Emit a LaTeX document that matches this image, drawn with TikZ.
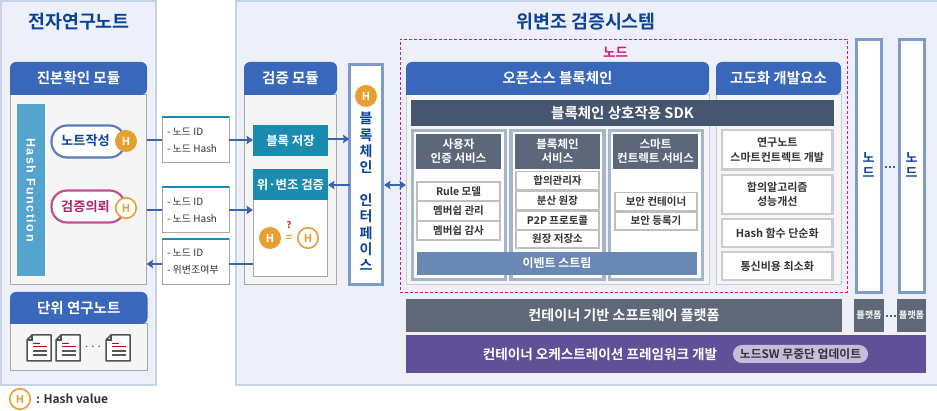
\documentclass[tikz,border=0pt]{standalone}
\usepackage{fontspec}
\setmainfont{Noto Sans CJK KR}[BoldFont={Noto Sans CJK KR Bold}]
\newfontfamily\hashf[LetterSpace=12]{Liberation Sans}
\usetikzlibrary{arrows.meta}
\definecolor{panelbg}{HTML}{EDF0F8}
\definecolor{panelln}{HTML}{C5D2E8}
\definecolor{hdrblue}{HTML}{3867BC}
\definecolor{bodybg}{HTML}{F5F5F5}
\definecolor{bodyln}{HTML}{A8A8A8}
\definecolor{titleblue}{HTML}{0B429C}
\definecolor{hashbar}{HTML}{55A3CF}
\definecolor{orangeH}{HTML}{E5A030}
\definecolor{teal}{HTML}{1A8CAF}
\definecolor{ifln}{HTML}{7E9AC9}
\definecolor{flow}{HTML}{3A62B0}
\definecolor{magent}{HTML}{D6137F}
\definecolor{sdk}{HTML}{46566F}
\definecolor{colln}{HTML}{A4B5CE}
\definecolor{colhd}{HTML}{5D677A}
\definecolor{evt}{HTML}{6A88B4}
\definecolor{plat}{HTML}{5E6878}
\definecolor{orch}{HTML}{5F5097}
\definecolor{pillbg}{HTML}{C3BEDC}
\definecolor{txt}{HTML}{333333}
\definecolor{noteln}{HTML}{5B7DBB}
\definecolor{reqln}{HTML}{C0508F}
\definecolor{reqtx}{HTML}{A8256F}
\tikzset{
  inner sep=0pt, outer sep=0pt,
  panel/.style={draw=panelln,line width=2pt,fill=panelbg},
  body/.style={draw=bodyln,line width=1pt,fill=bodybg},
  wbox/.style={draw=bodyln,line width=1pt,fill=white},
  item/.style={draw=black!25,line width=1.8pt,fill=white,text=txt,align=center,font=\fontsize{10.5}{13.5}\selectfont\bfseries},
  bigitem/.style={draw=black!20,line width=2.4pt,fill=white,text=txt,align=center,font=\fontsize{11}{14.5}\selectfont\bfseries},
  info/.style={draw=bodyln,line width=1pt,fill=white,text=txt,align=left,font=\fontsize{10}{17}\selectfont},
  colbox/.style={draw=colln,line width=3.5pt,fill=white},
  colhead/.style={fill=colhd,text=white,align=center,font=\fontsize{11.5}{14}\selectfont\bfseries},
  whitehd/.style={text=white,font=\fontsize{14.5}{17}\selectfont\bfseries},
  tealbox/.style={fill=teal,text=white,font=\fontsize{12.4}{14}\selectfont\bfseries},
  nodebar/.style={draw=ifln,line width=3pt,fill=white},
  darkbar/.style={fill=plat,text=white,font=\fontsize{14.1}{16}\selectfont\bfseries},
  smallplat/.style={fill=plat,text=white,font=\fontsize{9.2}{10}\selectfont\bfseries},
  stacked/.style={text=titleblue,align=center,font=\fontsize{14}{16.3}\selectfont\bfseries},
  hfull/.style={circle,fill=orangeH,text=white,minimum size=22pt,font=\fontsize{11}{12}\selectfont\bfseries},
  hopen/.style={circle,draw=orangeH,line width=1.6pt,fill=white,text=orangeH,minimum size=20.5pt,font=\fontsize{11}{12}\selectfont\bfseries},
  flowline/.style={draw=flow,line width=2.6pt},
  flowarrow/.style={flowline,-{Stealth[length=6.5pt,width=8.5pt,inset=1pt]}},
  flowboth/.style={flowline,{Stealth[length=6.5pt,width=8.5pt,inset=1pt]}-{Stealth[length=6.5pt,width=8.5pt,inset=1pt]}},
}
\newcommand{\bx}[7]{%
  \pgfmathsetmacro{\mycx}{(#2+#4)/2}\pgfmathsetmacro{\mycy}{(#3+#5)/2}%
  \pgfmathsetmacro{\myw}{#4-#2}\pgfmathsetmacro{\myh}{#5-#3}%
  \node[#6,minimum width=\myw pt,minimum height=\myh pt] (#1) at (\mycx,\mycy) {#7};}
\newcommand{\hdr}[6]{%
  \fill[hdrblue] (#2,#5) {[rounded corners=6pt] -- (#2,#3) -- (#4,#3) -- (#4,#5)} -- cycle;%
  \bx{#1}{#2}{#3}{#4}{#5}{whitehd}{#6}}
\newcommand{\docicon}[1]{%
  \begin{scope}[shift={(#1,335)}]
    \draw[draw=black!68,fill=white,line width=1.5pt,line join=round] (5,0) -- (24,0) -- (24,26) -- (0,26) -- (0,5) -- cycle;
    \draw[draw=black!68,line width=1.2pt] (5,0) -- (5,5) -- (0,5);
    \draw[red!80!black,line width=1pt] (6,8.5) -- (13,8.5) (6,12) -- (19.5,12);
    \draw[black!65,line width=1.3pt] (6,16) -- (19.5,16) (6,20) -- (19.5,20);
  \end{scope}}
\newcommand{\infobox}[5]{%
  \bx{#1}{162}{#2}{229}{#3}{info}{}
  \fill[teal] (162,#2-1) rectangle (229,#2+1.2);
  \node[info,draw=none,fill=none,anchor=west] (#1t) at (167,#2/2+#3/2) {#4\\#5};}
\begin{document}
\begin{tikzpicture}[x=1pt,y=-1pt]
\useasboundingbox (0,0) rectangle (937,411);
\fill[white] (0,0) rectangle (937,411);
% panels
\bx{leftp}{1}{1}{156}{385}{panel}{}
\bx{rightp}{236}{1}{945}{385}{panel}{}
\node[text=titleblue,font=\fontsize{18.4}{20}\selectfont\bfseries] (ltitle) at (79,22) {전자연구노트};
\node[text=titleblue,font=\fontsize{18.4}{20}\selectfont\bfseries] (rtitle) at (586,22) {위변조 검증시스템};
% left module
\bx{jbody}{10}{95}{146.5}{285}{body}{}
\hdr{jhead}{10}{62}{147}{95}{진본확인 모듈}
\bx{hbar}{17}{104}{45}{276}{fill=hashbar}{}
\node[rotate=-90,text=white,font=\hashf\fontsize{12.5}{14}\selectfont\bfseries] (htext) at (31,190) {Hash Function};
\bx{note}{51.5}{125.5}{125}{157.5}{draw=noteln,line width=2.2pt,fill=white,rounded corners=15.5pt}{}
\node[text=titleblue,font=\fontsize{13.2}{15}\selectfont\bfseries] (notet) at (85.5,141) {노트작성};
\bx{req}{51.5}{190.5}{125}{222.5}{draw=reqln,line width=2.2pt,fill=white,rounded corners=15.5pt}{}
\node[text=reqtx,font=\fontsize{13.2}{15}\selectfont\bfseries] (reqt) at (85.5,207) {검증의뢰};
\node[hfull] (h1) at (126,141) {H};
\node[hopen] (h2) at (126,208) {H};
% unit notes
\bx{ubody}{10}{324}{147}{371}{body}{}
\hdr{uhead}{10}{292}{147.5}{324}{단위 연구노트}
\docicon{27}\docicon{56}\docicon{106}
\node[text=black!75,font=\fontsize{14}{14}\selectfont\bfseries] (udots) at (93,347) {$\cdots$};
% legend
\node[hopen] (hl) at (20,399) {H};
\node[anchor=west,text=txt,font=\fontsize{12}{14}\selectfont\bfseries] (hlt) at (36,399) {: Hash value};
% info boxes
\infobox{i1}{117}{163}{- 노드 ID}{- 노드 Hash}
\infobox{i2}{187}{233}{- 노드 ID}{- 노드 Hash}
\infobox{i3}{239}{285}{- 노드 ID}{- 위변조여부}
% verification module
\bx{vbody}{244}{95}{336.5}{285}{body}{}
\hdr{vhead}{244}{62}{337}{95}{검증 모듈}
\bx{store}{253}{125}{328}{156}{tealbox}{블록 저장}
\bx{chkbody}{253}{200}{327.5}{276.5}{wbox}{}
\bx{chk}{253}{169}{328}{200}{tealbox}{위·변조 검증}
\node[hfull] (h3) at (270,238) {H};
\node[hopen] (h4) at (308,238) {H};
\node[text=orangeH,font=\fontsize{11}{12}\selectfont\bfseries] (heq) at (289,238.5) {=};
\node[text=red!80!black,font=\fontsize{9}{10}\selectfont\bfseries] (hq) at (289,225) {?};
% interface
\bx{iface}{349.5}{64.5}{382.5}{284.5}{nodebar}{}
\node[hfull] (h5) at (366,96) {H};
\node[stacked] (ifacet) at (366,191.5) {블\\록\\체\\인\\[16.3pt]인\\터\\페\\이\\스};
% node dashed
\bx{nodebox}{400}{39}{847}{292}{draw=magent,dashed,line width=.9pt,dash pattern=on 3pt off 2pt}{}
\node[text=magent,font=\fontsize{13.5}{14}\selectfont\bfseries] (nodet) at (615.5,52) {노드};
% open-source
\bx{obody}{406}{95}{709}{285}{draw=black!20,line width=1pt,fill=bodybg}{}
\hdr{ohead}{406}{62}{709}{95}{오픈소스 블록체인}
\bx{abody}{716}{95}{841}{285}{draw=black!20,line width=1pt,fill=bodybg}{}
\hdr{ahead}{716}{62}{841}{95}{고도화 개발요소}
\bx{sdkbar}{411}{100}{834}{126}{fill=sdk,text=white,font=\fontsize{14.5}{15}\selectfont\bfseries}{블록체인 상호작용 SDK}
% columns
\bx{c1}{412.5}{130.5}{505.5}{279.5}{colbox}{}
\bx{c2}{511}{130.5}{604}{279.5}{colbox}{}
\bx{c3}{609.5}{130.5}{702.5}{279.5}{colbox}{}
\bx{c1h}{416}{134}{501}{169}{colhead}{사용자\\인증 서비스}
\bx{c2h}{515}{134}{600}{169}{colhead}{블록체인\\서비스}
\bx{c3h}{613}{134}{698}{169}{colhead}{스마트\\컨트렉트 서비스}
\bx{a1}{417}{182}{500}{201}{item}{Rule 모델}
\bx{a2}{417}{201.5}{500}{220.5}{item}{멤버쉽 관리}
\bx{a3}{417}{221}{500}{240}{item}{멤버쉽 감사}
\bx{b1}{516}{171.5}{599}{190}{item}{합의관리자}
\bx{b2}{516}{191}{599}{210}{item}{분산 원장}
\bx{b3}{516}{211}{599}{229.5}{item}{P2P 프로토콜}
\bx{b4}{516}{230}{599}{248}{item}{원장 저장소}
\bx{d1}{615}{192.5}{697}{211}{item}{보안 컨테이너}
\bx{d2}{615}{212}{697}{230}{item}{보안 등록기}
\bx{evt}{417}{252}{697}{275}{fill=evt,text=white,font=\fontsize{12}{15}\selectfont\bfseries}{이벤트 스트림}
% advanced items
\bx{e1}{722}{130}{832.5}{169.5}{bigitem}{연구노트\\스마트컨트렉트 개발}
\bx{e2}{722}{175}{832.5}{214}{bigitem}{합의알고리즘\\성능개선}
\bx{e3}{722}{219}{832.5}{247}{bigitem}{Hash 함수 단순화}
\bx{e4}{722}{252}{832.5}{280}{bigitem}{통신비용 최소화}
% nodes on right
\bx{n1}{856.5}{39.5}{881}{292.5}{nodebar}{}
\bx{n2}{899.5}{39.5}{924}{292.5}{nodebar}{}
\node[stacked,font=\fontsize{13}{15}\selectfont\bfseries] (n1t) at (868.5,165) {노\\드};
\node[stacked,font=\fontsize{13}{15}\selectfont\bfseries] (n2t) at (911.5,165) {노\\드};
\draw[draw=flow,line width=1.6pt,dash pattern=on 1.6pt off 2.4pt] (n1.east |- 0,167) ++(4,0) -- ++(10,0);
% platform
\bx{pbar}{406}{299}{842}{332}{darkbar}{컨테이너 기반 소프트웨어 플랫폼}
\bx{p1}{854}{299}{884}{332}{smallplat}{플랫폼}
\bx{p2}{897}{299}{926}{332}{smallplat}{플랫폼}
\draw[draw=flow,line width=1.6pt,dash pattern=on 1.6pt off 2.4pt] (p1.east |- 0,316) ++(2,0) -- ++(10,0);
\bx{orbar}{406}{335}{926}{373}{fill=orch}{}
\node[text=white,font=\fontsize{13.6}{16}\selectfont\bfseries] (ort) at (600,354) {컨테이너 오케스트레이션 프레임워크 개발};
\bx{orpill}{733}{345}{868}{363}{fill=pillbg,text=black!80,rounded corners=9pt,font=\fontsize{11.8}{13}\selectfont\bfseries}{노드SW 무중단 업데이트}
% connectors
\draw[flowline] (jbody.east |- 0,140) -- (i1.west |- 0,140);
\draw[flowarrow] (i1.east |- 0,140) -- (store.west |- 0,140);
\draw[flowline] (jbody.east |- 0,210) -- (i2.west |- 0,210);
\draw[flowarrow] (i2.east |- 0,210) -- (chkbody.west |- 0,210);
\draw[flowline] (chkbody.west |- 0,264) -- (i3.east |- 0,264);
\draw[flowarrow] (i3.west |- 0,264) -- (jbody.east |- 0,264);
\draw[flowarrow] (store.east |- 0,139) -- (iface.west |- 0,139);
\draw[flowarrow] (iface.west |- 0,185) -- (chk.east |- 0,185);
\draw[flowboth] (iface.east |- 0,185) ++(1.5,0) -- (ohead.west |- 0,185);
\end{tikzpicture}
\end{document}
